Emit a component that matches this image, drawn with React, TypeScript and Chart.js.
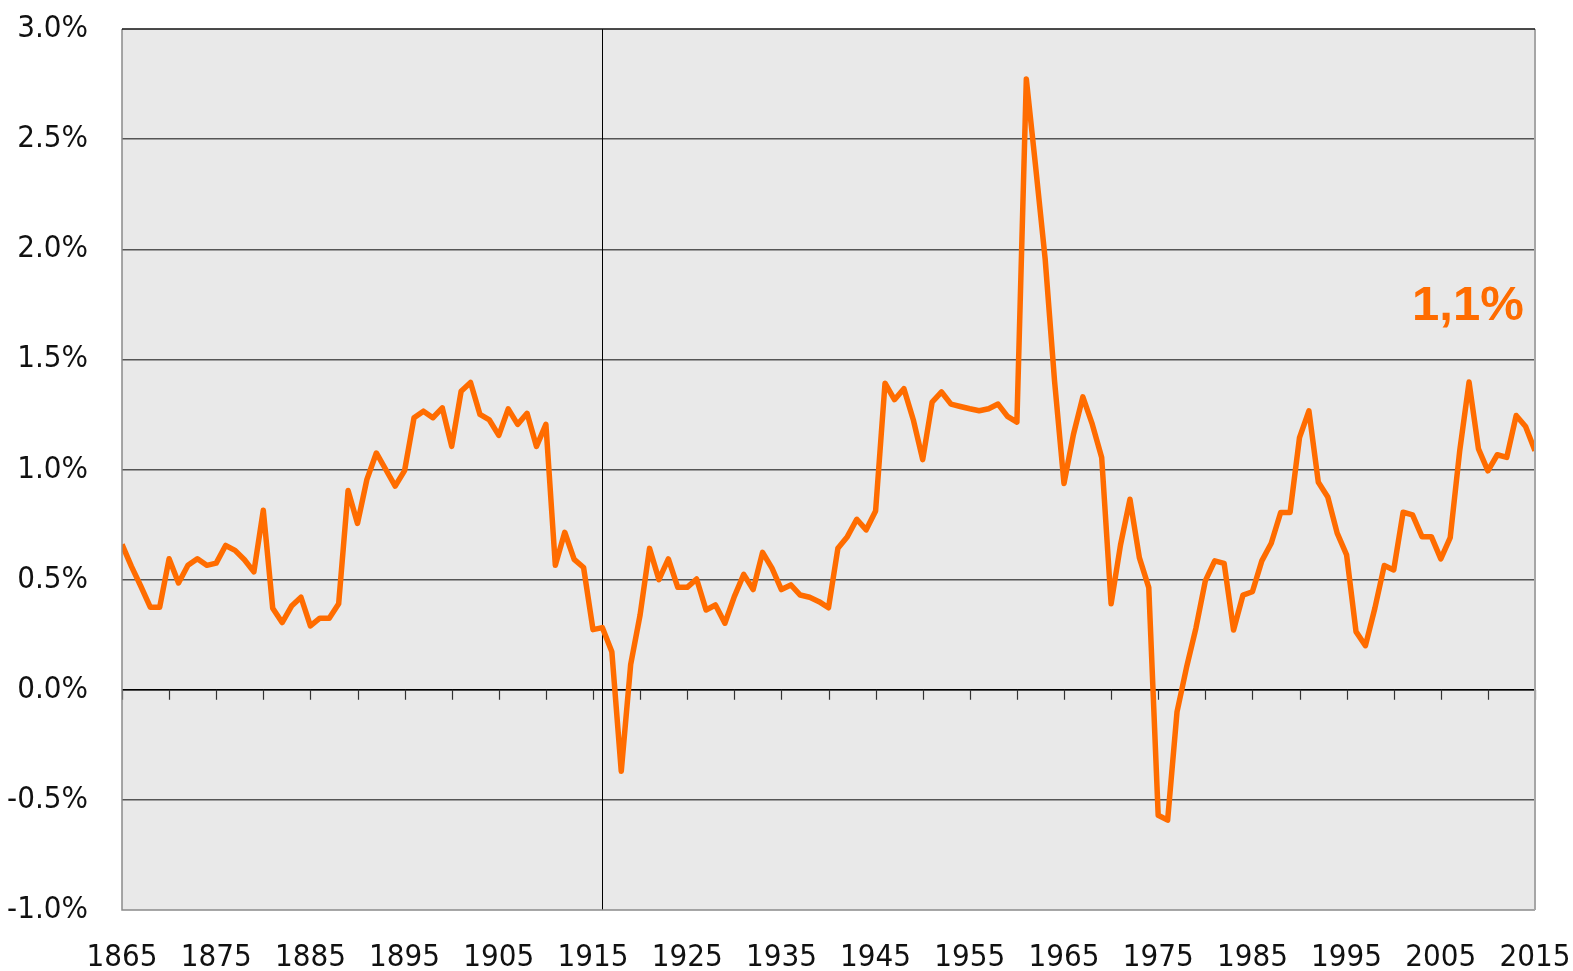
import React, { useEffect, useRef } from "react";
import { Chart, registerables } from "chart.js";

Chart.register(...registerables);

// Years 1865..2015 (x axis categories)
const firstYear = 1865;
const lastYear = 2015;

// Series values (%), one per year, grouped by decade for readability
const values1865_1874 = [0.66, 0.56, 0.47, 0.375, 0.375, 0.595, 0.485, 0.565, 0.595, 0.565];
const values1875_1884 = [0.575, 0.655, 0.633, 0.59, 0.535, 0.815, 0.37, 0.305, 0.38, 0.42];
const values1885_1894 = [0.29, 0.325, 0.325, 0.39, 0.905, 0.755, 0.955, 1.075, 1.0, 0.925];
const values1895_1904 = [0.995, 1.235, 1.265, 1.235, 1.28, 1.105, 1.355, 1.395, 1.25, 1.225];
const values1905_1914 = [1.155, 1.275, 1.205, 1.255, 1.105, 1.205, 0.565, 0.715, 0.592, 0.555];
const values1915_1924 = [0.273, 0.282, 0.173, -0.37, 0.115, 0.34, 0.642, 0.5, 0.594, 0.465];
const values1925_1934 = [0.465, 0.503, 0.362, 0.385, 0.302, 0.423, 0.524, 0.455, 0.624, 0.552];
const values1935_1944 = [0.455, 0.476, 0.43, 0.42, 0.4, 0.372, 0.643, 0.695, 0.774, 0.726];
const values1945_1954 = [0.812, 1.392, 1.317, 1.367, 1.226, 1.045, 1.306, 1.352, 1.297, 1.286];
const values1955_1964 = [1.276, 1.267, 1.276, 1.297, 1.241, 1.215, 2.773, 2.37, 1.956, 1.4];
const values1965_1974 = [0.936, 1.159, 1.33, 1.206, 1.055, 0.39, 0.658, 0.865, 0.6, 0.464];
const values1975_1984 = [-0.57, -0.592, -0.1, 0.1, 0.279, 0.494, 0.585, 0.574, 0.271, 0.43];
const values1985_1994 = [0.445, 0.585, 0.665, 0.805, 0.805, 1.145, 1.266, 0.942, 0.875, 0.711];
const values1995_2004 = [0.612, 0.264, 0.2, 0.37, 0.564, 0.544, 0.806, 0.794, 0.695, 0.695];
const values2005_2015 = [0.594, 0.691, 1.082, 1.397, 1.094, 0.994, 1.067, 1.055, 1.245, 1.195, 1.085];

const seriesValues = [
  ...values1865_1874, ...values1875_1884, ...values1885_1894, ...values1895_1904,
  ...values1905_1914, ...values1915_1924, ...values1925_1934, ...values1935_1944,
  ...values1945_1954, ...values1955_1964, ...values1965_1974, ...values1975_1984,
  ...values1985_1994, ...values1995_2004, ...values2005_2015,
];

const xTickLabels = ["1865", "1875", "1885", "1895", "1905", "1915", "1925", "1935", "1945", "1955", "1965", "1975", "1985", "1995", "2005", "2015"];
const yTickLabels = ["-1.0%", "-0.5%", "0.0%", "0.5%", "1.0%", "1.5%", "2.0%", "2.5%", "3.0%"];

const markerYear = 1916;
const annotationText = "1,1%";
const annotationX = 2013.8;
const annotationY = 1.68;

const ORANGE = "#ff6c00";
const FONT = '"Liberation Sans Narrow", "Arial Narrow", "DejaVu Sans Condensed", "Liberation Sans", sans-serif';

export default function App() {
  const ref = useRef<HTMLCanvasElement | null>(null);

  useEffect(() => {
    const canvas = ref.current;
    if (!canvas) return;
    const data = seriesValues.map((v, i) => ({ x: firstYear + i, y: v }));

    const framePlugin = {
      id: "frame",
      beforeDraw(chart: any) {
        const { ctx, chartArea: a } = chart;
        ctx.save();
        ctx.fillStyle = "#e9e9e9";
        ctx.fillRect(a.left, a.top, a.right - a.left, a.bottom - a.top);
        ctx.restore();
      },
      afterDatasetsDraw(chart: any) {
        const { ctx, chartArea: a } = chart;
        ctx.save();
        ctx.lineWidth = 1.5;
        ctx.strokeStyle = "#8a8a8a";
        ctx.beginPath();
        ctx.moveTo(a.left, a.top);
        ctx.lineTo(a.left, a.bottom);
        ctx.lineTo(a.right, a.bottom);
        ctx.stroke();
        ctx.lineWidth = 2;
        ctx.strokeStyle = "#a6a6a6";
        ctx.beginPath();
        ctx.moveTo(a.right, a.top);
        ctx.lineTo(a.right, a.bottom);
        ctx.stroke();
        ctx.lineWidth = 1.5;
        ctx.strokeStyle = "#111";
        ctx.beginPath();
        ctx.moveTo(a.left, a.top);
        ctx.lineTo(a.right, a.top);
        ctx.stroke();
        ctx.restore();
      },
      beforeDatasetsDraw(chart: any) {
        const { ctx, chartArea: a, scales } = chart;
        const xs = scales.x;
        const ys = scales.y;
        const y0 = ys.getPixelForValue(0);
        ctx.save();
        ctx.strokeStyle = "#000";
        ctx.lineWidth = 1.5;
        ctx.beginPath();
        ctx.moveTo(a.left, y0);
        ctx.lineTo(a.right, y0);
        ctx.stroke();
        ctx.lineWidth = 1.2;
        ctx.strokeStyle = "#333";
        for (const t of xs.ticks) {
          const px = Math.round(xs.getPixelForValue(t.value)) + 0.5;
          ctx.beginPath();
          ctx.moveTo(px, y0);
          ctx.lineTo(px, y0 + 10);
          ctx.stroke();
        }
        const mx = Math.round(xs.getPixelForValue(markerYear)) + 0.5;
        ctx.lineWidth = 1;
        ctx.strokeStyle = "#000";
        ctx.beginPath();
        ctx.moveTo(mx, a.top);
        ctx.lineTo(mx, a.bottom);
        ctx.stroke();
        ctx.restore();
      },
      afterDraw(chart: any) {
        const { ctx, scales } = chart;
        ctx.save();
        ctx.fillStyle = ORANGE;
        ctx.font = 'bold 49px "Liberation Sans", Arial, sans-serif';
        ctx.textAlign = "right";
        ctx.textBaseline = "alphabetic";
        ctx.fillText(annotationText, scales.x.getPixelForValue(annotationX), scales.y.getPixelForValue(annotationY));
        ctx.restore();
      },
    };

    const chart = new Chart(canvas, {
      type: "line",
      data: {
        datasets: [
          {
            data,
            borderColor: ORANGE,
            borderWidth: 5.5,
            borderJoinStyle: "round",
            pointRadius: 0,
            tension: 0,
            fill: false,
          },
        ],
      },
      options: {
        animation: false,
        responsive: false,
        maintainAspectRatio: false,
        layout: { padding: { top: 29, right: 38, left: 0, bottom: 0 } },
        plugins: { legend: { display: false }, tooltip: { enabled: false } },
        scales: {
          x: {
            type: "linear",
            min: firstYear,
            max: lastYear,
            afterFit: (s: any) => { s.height = 61; s.paddingLeft = 0; s.paddingRight = 0; },
            border: { display: false },
            grid: { display: false, drawTicks: false },
            ticks: {
              stepSize: 5,
              autoSkip: false,
              maxRotation: 0,
              padding: 29,
              color: "#111",
              font: { family: FONT, size: 31 },
              callback: (v: any) => (xTickLabels.includes(String(v)) ? String(v) : ""),
            },
          },
          y: {
            min: -1,
            max: 3,
            afterFit: (s: any) => { s.width = 122; s.paddingTop = 0; s.paddingBottom = 0; },
            border: { display: false },
            grid: {
              drawTicks: false,
              color: (c: any) => (c.tick && (c.tick.value === -1 || c.tick.value === 3) ? "rgba(0,0,0,0)" : "#555"),
              lineWidth: 1.4,
            },
            ticks: {
              stepSize: 0.5,
              padding: 34,
              color: "#111",
              font: { family: FONT, size: 31 },
              callback: (v: any, i: number) => yTickLabels[i] ?? "",
            },
          },
        },
      },
      plugins: [framePlugin],
    } as any);
    return () => chart.destroy();
  }, []);

  return (
    <div style={{ position: "absolute", left: 0, top: 0, width: 1573, height: 971, background: "#fff" }}>
      <canvas ref={ref} width={1573} height={971} style={{ display: "block" }} />
    </div>
  );
}
